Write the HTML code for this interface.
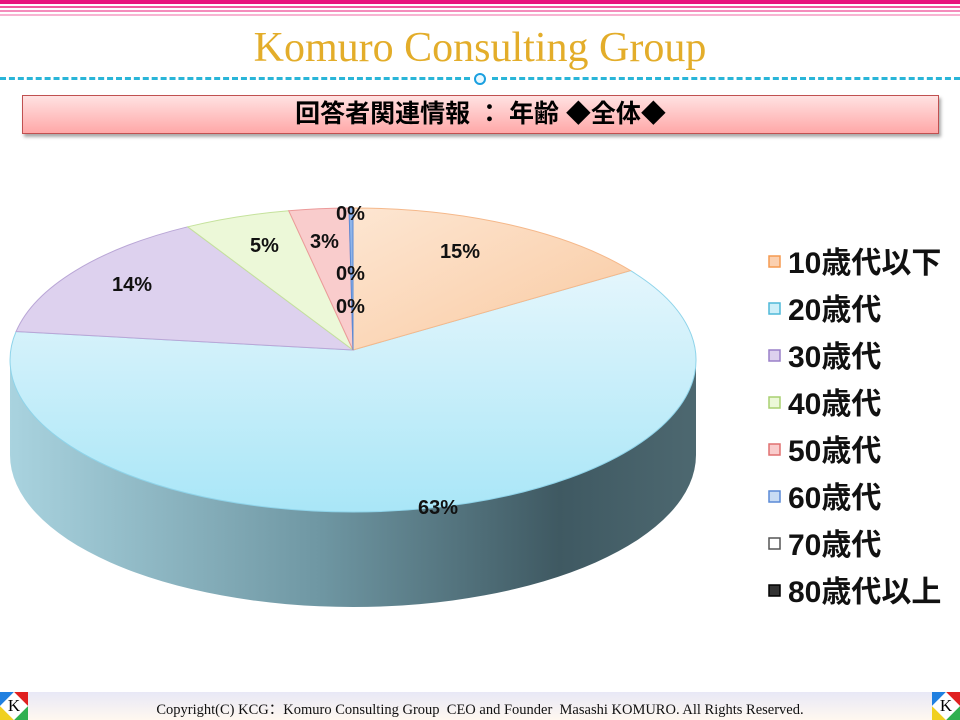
<!DOCTYPE html>
<html><head><meta charset="utf-8"><style>
body{margin:0;width:960px;height:720px;overflow:hidden;background:#fff;position:relative;font-family:"Liberation Sans","Noto Sans CJK JP",sans-serif}
.abs{position:absolute}
</style></head><body>
<div class="abs" style="left:0;top:0;width:960px;height:4px;background:#e8157f"></div>
<div class="abs" style="left:0;top:6px;width:960px;height:2px;background:#f05aa0"></div>
<div class="abs" style="left:0;top:10px;width:960px;height:2px;background:#f48cbc"></div>
<div class="abs" style="left:0;top:14px;width:960px;height:2px;background:#f8b4d2"></div>
<div class="abs" style="left:0;top:24px;width:960px;text-align:center;font-family:'Liberation Serif',serif;font-size:42px;color:#e3ad2a">Komuro Consulting Group</div>
<div class="abs" style="left:0;top:77px;width:470px;border-top:3px dashed #29b5d8"></div>
<div class="abs" style="left:492px;top:77px;width:468px;border-top:3px dashed #29b5d8"></div>
<div class="abs" style="left:474px;top:73px;width:8px;height:8px;border:2px solid #1aa0e0;border-radius:50%;background:#e8f8ff"></div>
<div class="abs" style="left:22px;top:95px;width:915px;height:37px;border:1px solid #c05050;background:linear-gradient(#ffe2e2,#ffa8a8);box-shadow:2px 3px 3px #aaa;text-align:center;font-weight:bold;font-size:25px;line-height:37px;color:#000">回答者関連情報 ： 年齢 ◆全体◆</div>

<svg class="abs" style="left:0;top:0" width="960" height="720">
<defs>
<linearGradient id="side" x1="0" x2="1"><stop offset="0" stop-color="#a9d3df"/><stop offset="0.45" stop-color="#6f97a3"/><stop offset="0.8" stop-color="#3f5962"/><stop offset="1" stop-color="#4d6870"/></linearGradient>
<linearGradient id="g20" x1="0" y1="0" x2="0" y2="1"><stop offset="0" stop-color="#e4f6fc"/><stop offset="1" stop-color="#a9e6f7"/></linearGradient>
<linearGradient id="g10" x1="0" y1="0" x2="1" y2="1"><stop offset="0" stop-color="#fde6d2"/><stop offset="1" stop-color="#f9c9a0"/></linearGradient>
</defs>
<path d="M696,360 A343,152 0 0 1 10,360 L10,455 A343,152 0 0 0 696,455 Z" fill="url(#side)"/>
<path d="M353,350 L630.5,270.6 A343,152 0 1 1 16.1,331.5 Z" fill="url(#g20)" stroke="#8fd4ea" stroke-width="1"/>
<path d="M353,350 L353,208 A343,152 0 0 1 630.5,270.6 Z" fill="url(#g10)" stroke="#f5b88a" stroke-width="1"/>
<path d="M353,350 L16.1,331.5 A343,152 0 0 1 187.7,226.8 Z" fill="#ddd1ee" stroke="#b9a6d6"/>
<path d="M353,350 L187.7,226.8 A343,152 0 0 1 288.7,210.7 Z" fill="#ecf8d8" stroke="#c5e29c"/>
<path d="M353,350 L288.7,210.7 A343,152 0 0 1 349,208 Z" fill="#f9cccc" stroke="#ec9a9a"/>
<path d="M353,350 L349,208 L353,208 Z" fill="#8fb4e8" stroke="#5a8ad6"/>
<g font-family="Liberation Sans,sans-serif" font-size="20" fill="#111" font-weight="bold">
<text x="440" y="258">15%</text>
<text x="112" y="291">14%</text>
<text x="250" y="252">5%</text>
<text x="310" y="248">3%</text>
<text x="336" y="220">0%</text>
<text x="336" y="280">0%</text>
<text x="336" y="313">0%</text>
<text x="418" y="514">63%</text>
</g>
<g font-family="Liberation Sans,Noto Sans CJK JP,sans-serif" font-size="30" font-weight="bold" fill="#111">
<rect x="769" y="256" width="11" height="11" fill="#fbd0b0" stroke="#f59a50" stroke-width="1.5"/><text x="788" y="273">10歳代以下</text>
<rect x="769" y="303" width="11" height="11" fill="#cdeff9" stroke="#4fb8d8" stroke-width="1.5"/><text x="788" y="320">20歳代</text>
<rect x="769" y="350" width="11" height="11" fill="#ddd1ee" stroke="#9a80c8" stroke-width="1.5"/><text x="788" y="367">30歳代</text>
<rect x="769" y="397" width="11" height="11" fill="#ecf8d8" stroke="#a8d070" stroke-width="1.5"/><text x="788" y="414">40歳代</text>
<rect x="769" y="444" width="11" height="11" fill="#f9cccc" stroke="#e07070" stroke-width="1.5"/><text x="788" y="461">50歳代</text>
<rect x="769" y="491" width="11" height="11" fill="#c8dcf4" stroke="#5a8ad6" stroke-width="1.5"/><text x="788" y="508">60歳代</text>
<rect x="769" y="538" width="11" height="11" fill="#fff" stroke="#555" stroke-width="1.5"/><text x="788" y="555">70歳代</text>
<rect x="769" y="585" width="11" height="11" fill="#333" stroke="#000" stroke-width="1.5"/><text x="788" y="602">80歳代以上</text>
</g>
</svg>

<div class="abs" style="left:0;top:692px;width:960px;height:28px;background:linear-gradient(#e8e8f6,#fff8f0)"></div>
<div class="abs" style="left:0;top:698px;width:960px;text-align:center;font-family:'Liberation Serif',serif;font-size:14.5px;color:#111">Copyright(C) KCG：Komuro Consulting Group &nbsp;CEO and Founder &nbsp;Masashi KOMURO. All Rights Reserved.</div>
<div class="abs" style="left:0;top:692px;width:28px;height:28px;background:conic-gradient(#e02020 0 90deg,#30b050 90deg 180deg,#f0d020 180deg 270deg,#2080e0 270deg 360deg)"><div style="margin:4px;width:20px;height:20px;background:#fff;transform:rotate(45deg)"></div><div class="abs" style="left:0;top:4px;width:28px;text-align:center;font-family:'Liberation Serif',serif;font-size:17px">K</div></div>
<div class="abs" style="left:932px;top:692px;width:28px;height:28px;background:conic-gradient(#e02020 0 90deg,#30b050 90deg 180deg,#f0d020 180deg 270deg,#2080e0 270deg 360deg)"><div style="margin:4px;width:20px;height:20px;background:#fff;transform:rotate(45deg)"></div><div class="abs" style="left:0;top:4px;width:28px;text-align:center;font-family:'Liberation Serif',serif;font-size:17px">K</div></div>
</body></html>
